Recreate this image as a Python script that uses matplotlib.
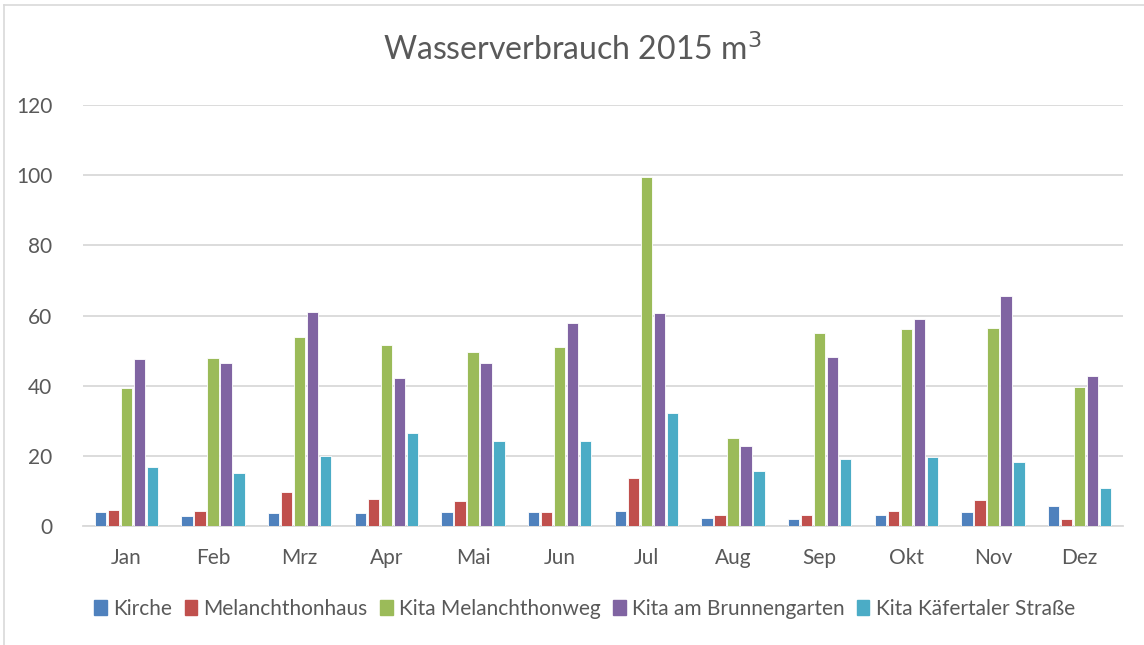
import matplotlib
matplotlib.use("Agg")
import matplotlib.pyplot as plt
import numpy as np
from matplotlib.lines import Line2D

months = ['Jan', 'Feb', 'Mrz', 'Apr', 'Mai', 'Jun', 'Jul', 'Aug', 'Sep', 'Okt', 'Nov', 'Dez']
series_names = ['Kirche', 'Melanchthonhaus', 'Kita Melanchthonweg',
                'Kita am Brunnengarten', 'Kita Käfertaler Straße']

kirche = [3.9, 2.9, 3.6, 3.6, 3.9, 4.1, 4.2, 2.4, 2.0, 3.0, 4.0, 5.7]
melanchthonhaus = [4.7, 4.4, 9.8, 7.8, 7.1, 4.0, 13.6, 3.1, 3.1, 4.4, 7.4, 1.9]
kita_melanchthonweg = [39.2, 48.0, 53.9, 51.7, 49.7, 51.1, 99.6, 25.2, 54.9, 56.1, 56.5, 39.6]
kita_brunnengarten = [47.6, 46.6, 61.1, 42.1, 46.5, 57.9, 60.6, 22.7, 48.1, 59.1, 65.6, 42.7]
kita_kaefertal = [16.7, 15.2, 19.9, 26.5, 24.3, 24.3, 32.1, 15.7, 19.0, 19.7, 18.2, 10.9]

colors = ['#4F81BD', '#C0504D', '#9BBB59', '#8064A2', '#4BACC6']
data = [kirche, melanchthonhaus, kita_melanchthonweg, kita_brunnengarten, kita_kaefertal]

plt.rcParams['font.family'] = ['Lato', 'DejaVu Sans']
text_col = '#595959'
grid_col = '#D9D9D9'

fig = plt.figure(figsize=(11.44, 6.45), dpi=100)
ax = fig.add_axes([83 / 1144, 1 - 526 / 645, 1040 / 1144, 421 / 645])

x = np.arange(len(months))
pitch = 0.15
width = 0.13
for i, (vals, c) in enumerate(zip(data, colors)):
    ax.bar(x + (i - 2) * pitch, vals, width, color=c, edgecolor='white',
           linewidth=0.6, zorder=3, label=series_names[i])

ax.set_xlim(-0.5, 11.5)
ax.set_ylim(0, 120)
ax.set_yticks(range(0, 121, 20))
ax.set_xticks(x)
ax.set_xticklabels(months)
ax.tick_params(axis='both', length=0, labelsize=15, colors=text_col)
ax.tick_params(axis='y', pad=22)
ax.tick_params(axis='x', pad=16)
ax.grid(axis='y', color=grid_col, linewidth=1.3, zorder=0)
for s in ['top', 'right', 'left']:
    ax.spines[s].set_visible(False)
ax.spines['bottom'].set_color(grid_col)
ax.spines['bottom'].set_linewidth(1.3)

fig.text(0.5, 1 - 50 / 645, 'Wasserverbrauch 2015 m$^3$', ha='center', va='center',
         fontsize=23, color=text_col)

handles = [plt.Rectangle((0, 0), 1, 1, color=c) for c in colors]
leg = fig.legend(handles, series_names, loc='center', bbox_to_anchor=(0.511, 1 - 609 / 645),
                 ncol=5, frameon=False, fontsize=15, handlelength=0.6, handleheight=0.7,
                 handletextpad=0.3, columnspacing=0.6)
for t in leg.get_texts():
    t.set_color(text_col)

# chart border
fig.add_artist(Line2D([4 / 1144, 4 / 1144], [0, 1 - 5 / 645], transform=fig.transFigure,
                      color=grid_col, linewidth=1.2))
fig.add_artist(Line2D([4 / 1144, 1], [1 - 5 / 645, 1 - 5 / 645], transform=fig.transFigure,
                      color=grid_col, linewidth=1.2))

fig.savefig('out.png', dpi=100)
